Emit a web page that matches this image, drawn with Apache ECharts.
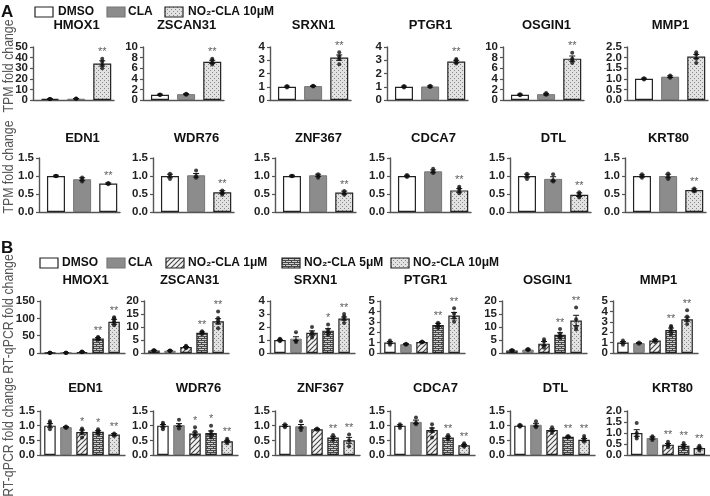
<!DOCTYPE html>
<html><head><meta charset="utf-8">
<script src="https://cdn.jsdelivr.net/npm/echarts@6/dist/echarts.min.js"></script>
<style>html,body{margin:0;padding:0;background:#fff}#c{width:710px;height:496px}</style>
</head><body><div id="c"></div>
<script>
// ---------------- DATA ----------------
const groupsA = ['DMSO', 'CLA', 'NO₂-CLA 10μM'];
const groupsB = ['DMSO', 'CLA', 'NO₂-CLA 1μM', 'NO₂-CLA 5μM', 'NO₂-CLA 10μM'];

const genesA1 = ['HMOX1', 'ZSCAN31', 'SRXN1', 'PTGR1', 'OSGIN1', 'MMP1'];
const genesA2 = ['EDN1', 'WDR76', 'ZNF367', 'CDCA7', 'DTL', 'KRT80'];
const genesB1 = ['HMOX1', 'ZSCAN31', 'SRXN1', 'PTGR1', 'OSGIN1', 'MMP1'];
const genesB2 = ['EDN1', 'WDR76', 'ZNF367', 'CDCA7', 'DTL', 'KRT80'];

const yMaxA1 = [50, 10, 4, 4, 10, 2.5];
const yIntA1 = [10, 2, 1, 1, 2, 0.5];
const yMaxA2 = [1.5, 1.5, 1.5, 1.5, 1.5, 1.5];
const yIntA2 = [0.5, 0.5, 0.5, 0.5, 0.5, 0.5];
const yMaxB1 = [150, 20, 4, 5, 20, 5];
const yIntB1 = [50, 5, 1, 1, 5, 1];
const yMaxB2 = [1.5, 1.5, 1.5, 1.5, 1.5, 2.0];
const yIntB2 = [0.5, 0.5, 0.5, 0.5, 0.5, 0.5];

// TPM fold change (A)
const meanA1 = [[1, 1.2, 34.5], [1.0, 1.1, 7.2], [1.0, 1.05, 3.2], [1.0, 1.02, 2.9], [1.0, 1.1, 7.8], [1.0, 1.1, 2.05]];
const semA1 = [[0.1, 0.1, 2.5], [0.1, 0.1, 0.3], [0.05, 0.03, 0.2], [0.05, 0.05, 0.1], [0.1, 0.15, 0.5], [0.03, 0.04, 0.1]];
const dotsA1 = [
  [[1, 1, 1], [1.1, 1.2, 1.3], [30, 33, 36, 39]],
  [[0.95, 1.0, 1.05], [1.0, 1.1, 1.2], [6.7, 7.0, 7.5, 7.8]],
  [[0.95, 1.0, 1.05], [1.02, 1.05, 1.08], [2.7, 3.1, 3.3, 3.6]],
  [[0.95, 1.0, 1.05], [0.98, 1.02, 1.08], [2.75, 2.85, 3.0, 3.1]],
  [[0.9, 1.0, 1.1], [1.0, 1.1, 1.3], [7.0, 7.5, 7.8, 8.9]],
  [[0.97, 1.0, 1.03], [1.05, 1.1, 1.15], [1.75, 1.95, 2.15, 2.25]]
];
const sigA1 = [['', '', '**'], ['', '', '**'], ['', '', '**'], ['', '', '**'], ['', '', '**'], ['', '', '']];

const meanA2 = [[1.0, 0.91, 0.79], [1.0, 1.02, 0.55], [1.0, 1.02, 0.54], [1.0, 1.13, 0.6], [1.0, 0.92, 0.48], [1.0, 1.0, 0.61]];
const semA2 = [[0.02, 0.04, 0.02], [0.05, 0.05, 0.04], [0.02, 0.03, 0.04], [0.02, 0.04, 0.05], [0.05, 0.06, 0.05], [0.03, 0.05, 0.03]];
const dotsA2 = [
  [[0.99, 1.0, 1.01], [0.85, 0.9, 0.96], [0.77, 0.8, 0.8]],
  [[0.92, 1.0, 1.06], [0.95, 1.0, 1.15], [0.48, 0.52, 0.55, 0.6]],
  [[0.99, 1.0, 1.01], [0.95, 1.0, 1.05], [0.48, 0.52, 0.58]],
  [[0.97, 1.0, 1.03], [1.08, 1.13, 1.2], [0.52, 0.58, 0.65, 0.7]],
  [[0.92, 1.0, 1.06], [0.85, 0.88, 1.05], [0.4, 0.45, 0.5, 0.55]],
  [[0.95, 1.0, 1.05], [0.92, 1.0, 1.07], [0.57, 0.6, 0.65]]
];
const sigA2 = [['', '', '**'], ['', '', '**'], ['', '', '**'], ['', '', '**'], ['', '', '**'], ['', '', '**']];

// RT-qPCR fold change (B)
const meanB1 = [[1, 1, 3, 42, 90], [1.0, 0.9, 2.3, 7.8, 12.2], [1.0, 1.1, 1.55, 1.72, 2.65], [1.0, 0.85, 1.05, 2.7, 3.6], [1.0, 1.3, 3.6, 7.0, 12.5], [1.0, 0.95, 1.2, 2.2, 3.25]];
const semB1 = [[0.2, 0.2, 0.5, 2.5, 7], [0.1, 0.1, 0.2, 0.3, 1.0], [0.05, 0.15, 0.15, 0.15, 0.12], [0.1, 0.05, 0.05, 0.15, 0.3], [0.2, 0.2, 0.8, 0.8, 2.0], [0.1, 0.05, 0.08, 0.2, 0.2]];
const dotsB1 = [
  [[1, 1, 1, 1], [1, 1, 1, 1], [2, 3, 3.5, 4], [38, 40, 42, 45, 46], [80, 88, 93, 100, 103]],
  [[0.9, 1.0, 1.0, 1.1], [0.8, 0.9, 0.9, 1.0], [1.8, 2.2, 2.5, 2.8], [7.3, 7.8, 8.1, 8.4], [9.5, 11.5, 12.5, 13.5, 16]],
  [[0.9, 1.0, 1.05, 1.1], [0.85, 0.95, 1.6], [1.2, 1.4, 1.6, 2.0], [1.4, 1.6, 1.8, 2.2], [2.3, 2.6, 2.8, 3.0]],
  [[0.8, 1.0, 1.2], [0.8, 0.85, 0.9], [1.0, 1.05, 1.1], [2.4, 2.6, 2.8, 2.9], [3.0, 3.4, 3.8, 4.3]],
  [[0.8, 1.0, 1.2], [1.1, 1.3, 1.5], [2, 3, 4.5, 5.3], [5.8, 6.5, 7.5, 9.2], [9, 10, 13, 17.5]],
  [[0.8, 1.0, 1.2], [0.9, 1.0], [1.05, 1.2, 1.3], [1.8, 2.2, 2.5, 2.6], [2.8, 3.2, 3.5, 4.1]]
];
const sigB1 = [['', '', '', '**', '**'], ['', '', '', '**', '**'], ['', '', '', '*', '**'], ['', '', '', '**', '**'], ['', '', '', '**', '**'], ['', '', '', '**', '**']];

const meanB2 = [[1.0, 0.95, 0.78, 0.79, 0.7], [1.0, 1.02, 0.73, 0.75, 0.47], [1.0, 0.98, 0.88, 0.6, 0.5], [1.0, 1.13, 0.85, 0.6, 0.33], [1.0, 1.03, 0.85, 0.62, 0.52], [1.0, 0.77, 0.47, 0.42, 0.32]];
const semB2 = [[0.07, 0.02, 0.07, 0.04, 0.03], [0.04, 0.05, 0.05, 0.07, 0.03], [0.03, 0.06, 0.02, 0.04, 0.1], [0.03, 0.06, 0.07, 0.04, 0.03], [0.02, 0.05, 0.04, 0.02, 0.04], [0.15, 0.05, 0.05, 0.05, 0.04]];
const dotsB2 = [
  [[0.88, 1.0, 1.1, 1.15], [0.92, 0.95, 0.97], [0.6, 0.75, 0.85, 0.9], [0.72, 0.78, 0.82, 0.88], [0.65, 0.7, 0.73]],
  [[0.88, 0.95, 1.05, 1.1], [0.9, 1.0, 1.2], [0.62, 0.7, 0.8, 0.95], [0.6, 0.7, 0.8, 1.0], [0.4, 0.45, 0.5, 0.55]],
  [[0.95, 1.0, 1.05], [0.85, 0.95, 1.15], [0.86, 0.88, 0.9], [0.5, 0.6, 0.68], [0.3, 0.5, 0.7]],
  [[0.92, 1.0, 1.05], [1.05, 1.1, 1.28], [0.6, 0.8, 0.9, 1.05], [0.52, 0.58, 0.62, 0.68], [0.28, 0.32, 0.36, 0.4]],
  [[0.96, 1.0, 1.03], [0.95, 1.0, 1.15], [0.75, 0.85, 0.95], [0.6, 0.62, 0.65], [0.45, 0.5, 0.58, 0.65]],
  [[0.75, 0.85, 1.0, 1.45], [0.68, 0.8, 0.85], [0.35, 0.45, 0.5, 0.6], [0.3, 0.4, 0.45, 0.55], [0.2, 0.3, 0.35, 0.42]]
];
const sigB2 = [['', '', '*', '*', '**'], ['', '', '*', '*', '**'], ['', '', '', '**', '**'], ['', '', '', '**', '**'], ['', '', '', '**', '**'], ['', '', '**', '**', '**']];

const fillsA = ['open', 'solid', 'dots'];
const fillsA2 = [['open', 'solid', 'open'], fillsA, fillsA, fillsA, fillsA, fillsA];
const fillsB = ['open', 'solid', 'hatch', 'brick', 'dots'];

// ---------------- PATTERNS ----------------
function makePattern(kind) {
  const c = document.createElement('canvas');
  const g = c.getContext('2d');
  if (kind === 'dots') {
    c.width = 4; c.height = 4;
    g.fillStyle = '#e2e2e2'; g.fillRect(0, 0, 4, 4);
    g.fillStyle = '#888'; g.fillRect(0, 0, 1, 1); g.fillRect(2, 2, 1, 1);
  } else if (kind === 'hatch') {
    c.width = 5; c.height = 5;
    g.fillStyle = '#f4f4f4'; g.fillRect(0, 0, 5, 5);
    g.strokeStyle = '#444'; g.lineWidth = 1.1;
    g.beginPath();
    g.moveTo(-1, 6); g.lineTo(6, -1);
    g.moveTo(-1, 1); g.lineTo(1, -1);
    g.moveTo(4, 6); g.lineTo(6, 4);
    g.stroke();
  } else if (kind === 'brick') {
    c.width = 6; c.height = 4;
    g.fillStyle = '#cfcfcf'; g.fillRect(0, 0, 6, 4);
    g.fillStyle = '#4a4a4a';
    g.fillRect(0, 0, 6, 1); g.fillRect(0, 2, 6, 1);
    g.fillRect(0, 1, 1, 1); g.fillRect(3, 3, 1, 1);
  }
  return { image: c, repeat: 'repeat' };
}
const PAT = { dots: makePattern('dots'), hatch: makePattern('hatch'), brick: makePattern('brick') };
function fillStyle(kind) {
  if (kind === 'open') return { color: '#ffffff', borderColor: '#222', borderWidth: 1.2 };
  if (kind === 'solid') return { color: '#8c8c8c', borderColor: '#777', borderWidth: 1 };
  return { color: PAT[kind], borderColor: '#222', borderWidth: 1.2 };
}

// ---------------- LAYOUT ----------------
const FONT = '"Liberation Sans", Arial, sans-serif';
const rows = [
  { genes: genesA1, max: yMaxA1, itv: yIntA1, mean: meanA1, sem: semA1, dots: dotsA1, sig: sigA1, fills: genesA1.map(() => fillsA),
    top: 47, h: 53, axisX: [33, 143, 270, 387, 503, 627], w: 81, off: 0.65, xmax: 3.1, bw: 18, titleY: 25 },
  { genes: genesA2, max: yMaxA2, itv: yIntA2, mean: meanA2, sem: semA2, dots: dotsA2, sig: sigA2, fills: fillsA2,
    top: 158, h: 54, axisX: [39, 153, 275, 390, 510, 625], w: 81, off: 0.65, xmax: 3.1, bw: 18, titleY: 138 },
  { genes: genesB1, max: yMaxB1, itv: yIntB1, mean: meanB1, sem: semB1, dots: dotsB1, sig: sigB1, fills: genesB1.map(() => fillsB),
    top: 301, h: 52, axisX: [40, 144, 270, 380, 502, 613], w: 85, off: 0.62, xmax: 5.3, bw: 11.5, titleY: 280 },
  { genes: genesB2, max: yMaxB2, itv: yIntB2, mean: meanB2, sem: semB2, dots: dotsB2, sig: sigB2, fills: genesB2.map(() => fillsB),
    top: 411, h: 44, axisX: [40, 153, 275, 390, 510, 627], w: 85, off: 0.62, xmax: 5.3, bw: 11.5, titleY: 388 }
];

const grid = [], xAxis = [], yAxis = [], series = [], graphic = [];
const tickJobs = [];
let k = 0;
rows.forEach(row => {
  row.genes.forEach((gene, p) => {
    const left = row.axisX[p];
    grid.push({ left: left, top: row.top, width: row.w, height: row.h });
    xAxis.push({ gridIndex: k, type: 'value', min: 0, max: row.xmax, show: true,
      axisLine: { show: true, onZero: false, lineStyle: { color: '#555', width: 1.4 } },
      axisTick: { show: false }, axisLabel: { show: false }, splitLine: { show: false } });
    const itv = row.itv[p];
    yAxis.push({ gridIndex: k, type: 'value', min: 0, max: row.max[p], interval: itv,
      axisLine: { show: true, lineStyle: { color: '#555', width: 1.4 } },
      axisTick: { show: true, length: 3, lineStyle: { color: '#555', width: 1.2 } },
      splitLine: { show: false },
      axisLabel: { show: false } });
    tickJobs.push({ k: k, left: left, max: row.max[p], itv: itv });
    const xs = row.mean[p].map((_, i) => i + row.off);
    series.push({ type: 'bar', xAxisIndex: k, yAxisIndex: k, barWidth: row.bw, silent: true,
      data: row.mean[p].map((m, i) => ({ value: [xs[i], m], itemStyle: fillStyle(row.fills[p][i]) })), z: 2 });
    series.push({ type: 'custom', xAxisIndex: k, yAxisIndex: k, silent: true, z: 4,
      data: row.mean[p].map((m, i) => [xs[i], m, row.sem[p][i]]),
      renderItem: (params, api) => {
        const x = api.value(0), m = api.value(1), s = api.value(2);
        const t = api.coord([x, m + s]), b = api.coord([x, Math.max(0, m - s)]);
        const cw = 3;
        const st = { stroke: '#111', lineWidth: 1 };
        return { type: 'group', children: [
          { type: 'line', shape: { x1: t[0], y1: t[1], x2: b[0], y2: b[1] }, style: st },
          { type: 'line', shape: { x1: t[0] - cw, y1: t[1], x2: t[0] + cw, y2: t[1] }, style: st },
          { type: 'line', shape: { x1: b[0] - cw, y1: b[1], x2: b[0] + cw, y2: b[1] }, style: st }
        ] };
      } });
    const pts = [];
    row.dots[p].forEach((arr, i) => arr.forEach(v => pts.push([xs[i], v])));
    series.push({ type: 'scatter', xAxisIndex: k, yAxisIndex: k, silent: true, z: 5, symbolSize: 4,
      itemStyle: { color: '#111' }, data: pts });
    const sigPts = [];
    row.sig[p].forEach((s, i) => {
      if (!s) return;
      const topV = Math.max(row.mean[p][i] + row.sem[p][i], ...row.dots[p][i]);
      sigPts.push({ value: [xs[i], topV], label: { formatter: s } });
    });
    series.push({ type: 'scatter', xAxisIndex: k, yAxisIndex: k, silent: true, z: 6, symbolSize: 0,
      data: sigPts,
      label: { show: true, position: 'top', distance: 1, color: '#333', fontSize: 11, fontFamily: FONT } });
    graphic.push({ type: 'text', x: left + row.w / 2 + 3, y: row.titleY, z: 10,
      style: { text: gene, fill: '#111', font: 'bold 13px ' + FONT, textAlign: 'center', textVerticalAlign: 'middle' } });
    k++;
  });
});

// panel letters
graphic.push({ type: 'text', x: 1, y: 12, style: { text: 'A', fill: '#111', font: 'bold 17px ' + FONT, textVerticalAlign: 'middle' } });
graphic.push({ type: 'text', x: 1, y: 248, style: { text: 'B', fill: '#111', font: 'bold 17px ' + FONT, textVerticalAlign: 'middle' } });

// y axis names
[['TPM fold change', 66], ['TPM fold change', 167], ['RT-qPCR fold change', 314], ['RT-qPCR fold change', 437]].forEach(([t, y]) => {
  graphic.push({ type: 'text', x: 9, y: y, rotation: Math.PI / 2, scaleX: 0.88,
    style: { text: t, fill: '#555', font: '14px ' + FONT, textAlign: 'center', textVerticalAlign: 'middle' } });
});

// legends
function legend(groups, fills, positions, y) {
  groups.forEach((gname, i) => {
    const [ix, tx] = positions[i];
    const fs = fillStyle(fills[i]);
    graphic.push({ type: 'rect', x: ix, y: y - 5, shape: { width: 18, height: 10 },
      style: { fill: fs.color, stroke: fs.borderColor, lineWidth: 1.2 } });
    graphic.push({ type: 'text', x: tx, y: y, style: { text: gname, fill: '#111', font: 'bold 12px ' + FONT, textVerticalAlign: 'middle' } });
  });
}
legend(groupsA, fillsA, [[35, 58], [107, 128], [165, 188]], 12);
legend(groupsB, fillsB, [[40, 62], [107, 128], [166, 188], [282, 304], [391, 413]], 263);

const chart = echarts.init(document.getElementById('c'), null, { renderer: 'canvas' });
chart.setOption({ animation: false, backgroundColor: '#fff', grid, xAxis, yAxis, series, graphic });

// y tick labels, placed with the axes' own scales
tickJobs.forEach(job => {
  for (let v = 0; v <= job.max + 1e-9; v += job.itv) {
    const val = Math.round(v * 100) / 100;
    const py = chart.convertToPixel({ yAxisIndex: job.k }, val);
    graphic.push({ type: 'text', x: job.left - 5, y: py, z: 10,
      style: { text: job.itv < 1 ? val.toFixed(1) : String(val), fill: '#222',
        font: 'bold 11.5px ' + FONT, textAlign: 'right', textVerticalAlign: 'middle' } });
  }
});
chart.setOption({ graphic: graphic });
</script></body></html>
